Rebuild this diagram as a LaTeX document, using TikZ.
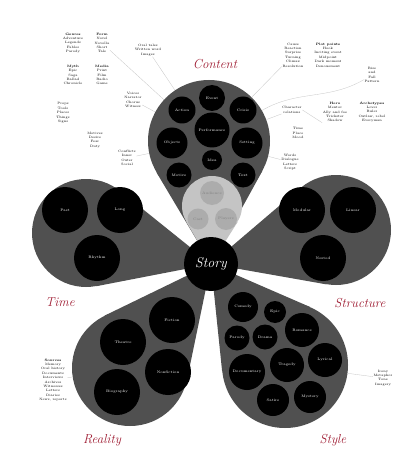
\documentclass[tikz,border=0pt]{standalone}
\usepackage{xcolor}
\usetikzlibrary{calc, positioning}
\definecolor{petalgray}{RGB}{80,80,80}
\definecolor{lightpetal}{RGB}{196,196,196}
\definecolor{lightbub}{RGB}{172,172,172}
\definecolor{crimson}{RGB}{160,30,52}
\begin{document}
\begin{tikzpicture}[x=1pt,y=-1pt]

        % Define block styles
        \tikzstyle{petal} = [circle, fill=petalgray, inner sep=0pt]
        \tikzstyle{inner} = [circle, fill=lightpetal, inner sep=0pt]
        \tikzstyle{bub} = [circle, fill=black, text=white, inner sep=0pt, font=\fontsize{3.6}{4}\selectfont]
        \tikzstyle{pale} = [circle, fill=lightbub, text=gray, inner sep=0pt, font=\fontsize{3.6}{4}\selectfont]
        \tikzstyle{cat} = [text=crimson, font=\fontsize{13}{15}\selectfont\itshape]
        \tikzstyle{note} = [align=center, font=\fontsize{3.3}{4.4}\selectfont, inner sep=0.5pt]
        \tikzstyle{lead} = [gray!45, line width=0.3pt]

        \useasboundingbox (0,0) rectangle (404,449);
        \fill[white] (0,0) rectangle (404,449);

        \coordinate (hub) at (211,264);

        % Petals
        \node (contP) [petal, minimum size=122pt] at (209,141) {};
        \node (timeP) [petal, minimum size=108pt] at (86,233) {};
        \node (strP) [petal, minimum size=110pt] at (336,230) {};
        \node (realP) [petal, minimum size=116pt] at (130,368) {};
        \node (styP) [petal, minimum size=126pt] at (285,365) {};
        \fill[petalgray] (hub) -- (tangent cs:node=contP,point={(hub)},solution=1) -- (tangent cs:node=contP,point={(hub)},solution=2) -- cycle;
        \fill[petalgray] (hub) -- (tangent cs:node=timeP,point={(hub)},solution=1) -- (tangent cs:node=timeP,point={(hub)},solution=2) -- cycle;
        \fill[petalgray] (hub) -- (tangent cs:node=strP,point={(hub)},solution=1) -- (tangent cs:node=strP,point={(hub)},solution=2) -- cycle;
        \fill[petalgray] (hub) -- (tangent cs:node=realP,point={(hub)},solution=1) -- (tangent cs:node=realP,point={(hub)},solution=2) -- cycle;
        \fill[petalgray] (hub) -- (tangent cs:node=styP,point={(hub)},solution=1) -- (tangent cs:node=styP,point={(hub)},solution=2) -- cycle;

        % Inner petal
        \node (audP) [inner, minimum size=60pt] at (212,206) {};
        \fill[lightpetal] (hub) -- (tangent cs:node=audP,point={(hub)},solution=1) -- (tangent cs:node=audP,point={(hub)},solution=2) -- cycle;
        \node (aud) [pale, minimum size=24pt] at (212,193) {Audience};
        \node (cast) [pale, minimum size=21pt] at (198,219) {Cast};
        \node (play) [pale, minimum size=22pt] at (226,219) {Players};

        % Content
        \node (event) [bub, minimum size=26pt] at (212,98) {Event};
        \node (action) [bub, minimum size=27pt] at (182,110) {Action};
        \node (crisis) [bub, minimum size=27pt] at (243,110) {Crisis};
        \node (perf) [bub, minimum size=35pt] at (212,130) {Performance};
        \node (obj) [bub, minimum size=31pt] at (172,143) {Objects};
        \node (set) [bub, minimum size=31pt] at (247,143) {Setting};
        \node (idea) [bub, minimum size=20pt] at (212,160) {Idea};
        \node (motive) [bub, minimum size=25pt] at (179,175) {Motive};
        \node (text) [bub, minimum size=25pt] at (243,175) {Text};

        % Time
        \node (past) [bub, minimum size=46pt] at (65,210) {Past};
        \node (long) [bub, minimum size=46pt] at (120,210) {Long};
        \node (rhythm) [bub, minimum size=46pt] at (97,258) {Rhythm};

        % Structure
        \node (modular) [bub, minimum size=46pt] at (302,210) {Modular};
        \node (linear) [bub, minimum size=46pt] at (353,210) {Linear};
        \node (nested) [bub, minimum size=46pt] at (323,258) {Nested};

        % Reality
        \node (fiction) [bub, minimum size=46pt] at (172,320) {Fiction};
        \node (theatre) [bub, minimum size=46pt] at (123,342) {Theatre};
        \node (nonfic) [bub, minimum size=46pt] at (168,372) {Nonfiction};
        \node (bio) [bub, minimum size=46pt] at (117,392) {Biography};

        % Style
        \node (comedy) [bub, minimum size=30pt] at (243,307) {Comedy};
        \node (epic) [bub, minimum size=22pt] at (275,312) {Epic};
        \node (romance) [bub, minimum size=34pt] at (302,330) {Romance};
        \node (parody) [bub, minimum size=25pt] at (237,338) {Parody};
        \node (drama) [bub, minimum size=25pt] at (265,337) {Drama};
        \node (docu) [bub, minimum size=36pt] at (247,372) {Documentary};
        \node (tragedy) [bub, minimum size=34pt] at (287,365) {Tragedy};
        \node (lyric) [bub, minimum size=34pt] at (325,360) {Lyrical};
        \node (satire) [bub, minimum size=32pt] at (273,400) {Satire};
        \node (mystery) [bub, minimum size=32pt] at (310,397) {Mystery};

        % Hub
        \node (story) [circle, fill=black, text=white, minimum size=54pt, inner sep=0pt, font=\fontsize{14}{16}\selectfont\itshape] at (hub) {Story};

        % Labels
        \node (contL) [cat] at (215,64) {Content};
        \node (timeL) [cat] at (60,302) {Time};
        \node (strL) [cat] at (360,303) {Structure};
        \node (realL) [cat] at (102,440) {Reality};
        \node (styL) [cat] at (333,440) {Style};

        % Notes
        \node (n1) [note] at (73,43) {\textbf{Genres}\\Adventure\\Legends\\Fables\\Parody};
        \node (n2) [note] at (102,43) {\textbf{Form}\\Novel\\Novella\\Short\\Tale};
        \node (n3) [note] at (148,50) {Oral tales\\Written word\\Images};
        \node (n4) [note] at (73,75) {\textbf{Myth}\\Epic\\Saga\\Ballad\\Chronicle};
        \node (n5) [note] at (102,75) {\textbf{Media}\\Print\\Film\\Radio\\Game};
        \node (n6) [note] at (133,100) {Voices\\Narrator\\Chorus\\Witness};
        \node (n7) [note] at (63,113) {Props\\Tools\\Places\\Things\\Signs};
        \node (n8) [note] at (95,140) {Motives\\Desire\\Fear\\Duty};
        \node (n9) [note] at (127,158) {Conflicts\\Inner\\Outer\\Social};
        \node (n10) [note] at (293,55) {Cause\\Reaction\\Surprise\\Turning\\Climax\\Resolution};
        \node (n11) [note] at (328,55) {\textbf{Plot points}\\Hook\\Inciting event\\Midpoint\\Dark moment\\Denouement};
        \node (n12) [note] at (372,75) {Rise\\and\\Fall\\Pattern};
        \node (n13) [note] at (292,110) {Character\\relations};
        \node (n14) [note] at (335,112) {\textbf{Hero}\\Mentor\\Ally and foe\\Trickster\\Shadow};
        \node (n15) [note] at (372,112) {\textbf{Archetypes}\\Lover\\Ruler\\Outlaw, rebel\\Everyman};
        \node (n16) [note] at (298,133) {Time\\Place\\Mood};
        \node (n17) [note] at (290,162) {Words\\Dialogue\\Letters\\Script};
        \node (n18) [note] at (53,380) {\textbf{Sources}\\Memory\\Oral history\\Documents\\Interviews\\Archives\\Witnesses\\Letters\\Diaries\\News, reports};
        \node (n19) [note] at (383,378) {Irony\\Metaphor\\Tone\\Imagery};

        % Leads
        \draw [lead] (n2) -- (contP);
        \draw [lead] (n3) -- (contP);
        \draw [lead] (n6) -- (contP);
        \draw [lead] (n9) -- (contP);
        \draw [lead] (n10) -- (contP);
        \draw [lead] (n13) -- (contP);
        \draw [lead] (n14.south west) -- (n13.east);
        \draw [lead] (n17) -- (contP);
        \draw [lead] (n12) to[out=-150,in=30] (contP);
        \draw [lead] (n18) -- (realP);
        \draw [lead] (n19) -- (styP);

      \end{tikzpicture}
\end{document}
